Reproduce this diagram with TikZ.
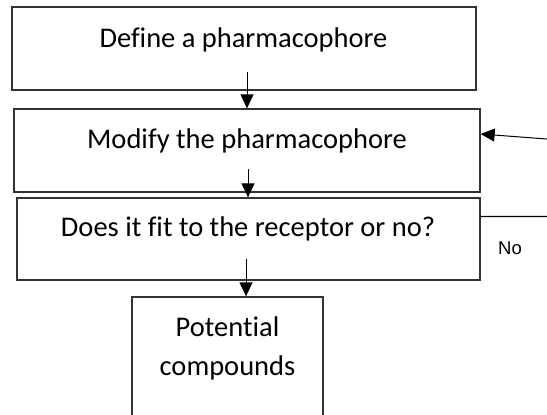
\documentclass[tikz,border=0pt]{standalone}
\usepackage{fontspec}
\setmainfont{Carlito}[Ligatures=NoCommon]
\newfontfamily\arialfont{Liberation Sans}
\usetikzlibrary{arrows.meta}
\begin{document}
\begin{tikzpicture}[x=1bp,y=-1bp,
  boxnode/.style={draw=black!80, line width=1.3bp, rectangle, inner sep=0pt},
  txt/.style={anchor=base, inner sep=0pt, font=\fontsize{28.5bp}{34bp}\selectfont},
  arr/.style={line width=1bp, -{Triangle[length=14bp,width=13bp]}},
  plainline/.style={line width=1.1bp, draw=black}]
\useasboundingbox (0,0) rectangle (547,414);
\clip (0,0) rectangle (547,414);
% boxes
\node[boxnode, minimum width=464bp, minimum height=83bp] (b1) at (244,48.5) {};
\node[boxnode, minimum width=466bp, minimum height=83bp] (b2) at (247,150.5) {};
\node[boxnode, minimum width=463bp, minimum height=82bp] (b3) at (248.5,239) {};
\node[boxnode, minimum width=191bp, minimum height=133bp] (b4) at (227.5,363.5) {};
% texts
\node[txt] (t1) at (243.5,47) {Define a pharmacophore};
\node[txt] (t2) at (247,148) {Modify the pharmacophore};
\node[txt] (t3) at (248,236) {Does it fit to the receptor or no?};
\node[txt] (t4a) at (227.5,336) {Potential};
\node[txt] (t4b) at (227.5,375) {compounds};
\node[anchor=base, inner sep=0pt, font=\arialfont\fontsize{18.5bp}{22bp}\selectfont] (no) at (510,254) {No};
% connectors
\coordinate (a1) at (247,72);
\draw[arr] (a1) -- (a1 |- b2.north);
\coordinate (a2) at (248,169);
\draw[arr] (a2) -- (a2 |- b3.north);
\coordinate (a3) at (246,259);
\draw[arr] (a3) -- (a3 |- b4.north);
\coordinate (fb) at (547,139);
\draw[arr] (fb) -- ([yshift=16.5bp]b2.east);
\coordinate (nl) at (547,216.5);
\draw[plainline] ([yshift=22.5bp]b3.east) -- (nl);
\end{tikzpicture}
\end{document}
